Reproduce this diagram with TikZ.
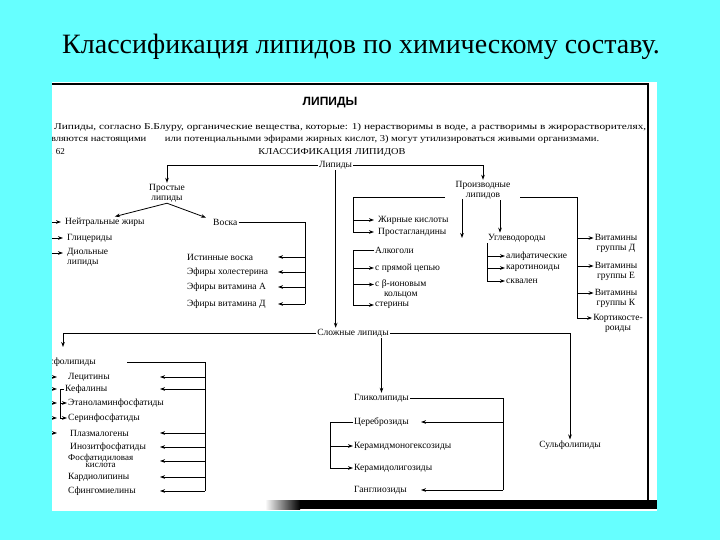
\documentclass[tikz,border=0pt]{standalone}
\usepackage{fontspec}
\setmainfont{Liberation Serif}
\setsansfont{Liberation Sans}
\usetikzlibrary{arrows.meta,calc}
\definecolor{slidecyan}{RGB}{102,255,255}

\begin{document}
\begin{tikzpicture}
  [x=1pt,y=-1pt,
   every node/.style={inner sep=1pt},
   lbl/.style={anchor=west,font=\fontsize{9.5}{10}\selectfont},
   ctr/.style={align=center,font=\fontsize{9.5}{10}\selectfont},
   ln/.style={line width=0.8pt},
   arr/.style={ln,-{Stealth[length=5pt,width=3.6pt]}}]
  \useasboundingbox (0,0) rectangle (720,540);
  \fill[slidecyan] (0,0) rectangle (720,540);
  \node[anchor=base,font=\fontsize{28}{30}\selectfont] (title) at (361,54)
    {Классификация липидов по химическому составу.};
  % scanned page
  \fill[white] (52,82) rectangle (657,511);
  \begin{scope}
  \clip (52,82) rectangle (657,511);
  \draw[line width=1.5pt] (52,84) -- (648,84) -- (648,506);
  \shade[left color=white,right color=black] (265,500) rectangle (300,509);
  \fill[black] (300,500) rectangle (657,509);
  % heading
  \node[font=\sffamily\bfseries\fontsize{12}{12}\selectfont] (head) at (330,103) {ЛИПИДЫ};
  \node[anchor=west,font=\fontsize{9}{10}\selectfont] (intro1) at (53,127)
    {\resizebox{592pt}{\height}{Липиды, согласно Б.Блуру, органические вещества, которые: 1) нерастворимы в воде, а растворимы в жирорастворителях,}};
  \node[anchor=west,font=\fontsize{9}{10}\selectfont] (intro2) at (45,139)
    {\resizebox{553pt}{\height}{являются настоящими\hspace{1.5em} или потенциальными эфирами жирных кислот, 3) могут утилизироваться живыми организмами.}};
  \node[anchor=east,font=\fontsize{9}{10}\selectfont] (fig) at (66,152) {Рис. 62};
  \node[font=\fontsize{9}{10}\selectfont] (klass) at (332,152)
    {\resizebox{147pt}{\height}{КЛАССИФИКАЦИЯ ЛИПИДОВ}};
  % main groups
  \node[lbl] (lip) at (318,165) {Липиды};
  \node[ctr] (prost) at (167,193) {Простые\\липиды};
  \node[ctr] (proizv) at (483,190) {Производные\\липидов};
  \node[ctr] (slozh) at (353,333) {Сложные липиды};
  % simple lipids
  \node[lbl] (nzh) at (64,222) {Нейтральные жиры};
  \node[lbl] (glic) at (66,238) {Глицериды};
  \node[lbl,align=left] (diol) at (66,257) {Диольные\\липиды};
  \node[lbl] (vosk) at (212,222) {Воска};
  \node[lbl] (ist) at (186,257) {Истинные воска};
  \node[lbl] (ech) at (186,272) {Эфиры холестерина};
  \node[lbl] (eva) at (186,287) {Эфиры витамина А};
  \node[lbl] (evd) at (186,304) {Эфиры витамина Д};
  % derived lipids
  \node[lbl] (zhk) at (377,220) {Жирные кислоты};
  \node[lbl] (prg) at (377,232) {Простагландины};
  \node[lbl] (alk) at (374,250) {Алкоголи};
  \node[lbl] (pryam) at (374,268) {с прямой цепью};
  \node[lbl,align=center] (ion) at (374,289) {с β-ионовым\\кольцом};
  \node[lbl] (ster) at (374,305) {стерины};
  \node[lbl] (ugl) at (487,238) {Углеводороды};
  \node[lbl] (alif) at (505,256) {алифатические};
  \node[lbl] (kar) at (505,268) {каротиноиды};
  \node[lbl] (skv) at (505,281) {сквален};
  \node[ctr] (vitD) at (616,243) {Витамины\\группы Д};
  \node[ctr] (vitE) at (616,271) {Витамины\\группы Е};
  \node[ctr] (vitK) at (616,298) {Витамины\\группы К};
  \node[ctr] (kort) at (618,323) {Кортикосте-\\роиды};
  % complex lipids
  \node[lbl,anchor=east] (fosf) at (97,362) {Фосфолипиды};
  \node[lbl] (lec) at (67,377) {Лецитины};
  \node[lbl] (kef) at (64,389) {Кефалины};
  \node[lbl] (eta) at (67,403) {Этаноламинфосфатиды};
  \node[lbl] (ser) at (67,418) {Серинфосфатиды};
  \node[lbl] (plaz) at (69,433) {Плазмалогены};
  \node[lbl] (ino) at (69,447) {Инозитфосфатиды};
  \node[lbl,align=center,font=\fontsize{9}{7.5}\selectfont] (fkis) at (67,461) {Фосфатидиловая\\кислота};
  \node[lbl] (kard) at (67,477) {Кардиолипины};
  \node[lbl] (sfing) at (67,491) {Сфингомиелины};
  \node[lbl] (glik) at (353,398) {Гликолипиды};
  \node[lbl] (cer) at (353,422) {Цереброзиды};
  \node[lbl] (kmg) at (353,446) {Керамидмоногексозиды};
  \node[lbl] (kol) at (353,468) {Керамидолигозиды};
  \node[lbl] (gang) at (353,490) {Ганглиозиды};
  \node[ctr] (sulf) at (570,445) {Сульфолипиды};
  % bus points
  \coordinate (lbus) at (44,0);
  \coordinate (vbus) at (305,222);
  \coordinate (vtip) at (278,0);
  \coordinate (pl) at (445,197);
  \coordinate (pr) at (520,197);
  \coordinate (pd) at (462,199);
  \coordinate (udrop) at (500,0);
  \coordinate (zbus) at (353,197);
  \coordinate (abus) at (353,250);
  \coordinate (rbus) at (577,197);
  \coordinate (fdrop) at (63,347);
  \coordinate (fbus) at (205,362);
  \coordinate (ftip) at (160,0);
  \coordinate (kbus) at (60,0);
  \coordinate (gbus) at (503,398);
  \coordinate (gtip) at (421,0);
  \coordinate (cbus) at (330,422);
  % top level
  \draw[arr] (lip.west) -| (prost.north);
  \draw[arr] (lip.east) -| (proizv.north);
  \draw[arr] (lip.south) -- (lip.south |- slozh.north);
  % simple lipids
  \draw[arr] (prost.south) -- ([xshift=10pt]nzh.north);
  \draw[arr] (prost.south) -- ([xshift=-6pt]vosk.north west);
  \foreach \n in {nzh,glic} \draw[arr] (lbus |- \n.west) -- ([xshift=-3pt]\n.west);
  \draw[arr] ($(lbus |- diol.west)+(0,-4)$) -- ($(diol.west)+(-3,-4)$);
  \draw[ln] (vosk.east) -- (vbus) -- (vbus |- evd);
  \foreach \n in {ist,ech,eva,evd} \draw[arr] (vbus |- \n) -- (vtip |- \n);
  % derived lipids
  \draw[ln] (pl) -- (zbus) -- (zbus |- prg);
  \foreach \n in {zhk,prg} \draw[arr] (zbus |- \n) -- ([xshift=-3pt]\n.west);
  \draw[arr] (pd) -- ++(0,39);
  \draw[arr] (proizv.south -| udrop) -- (udrop |- ugl.north);
  \draw[ln] (alk.west) -- (abus) -- (abus |- ster);
  \foreach \n in {pryam,ster} \draw[arr] (abus |- \n) -- (\n.west);
  \draw[arr] ($(abus |- ion.west)+(0,-4.5)$) -- ($(ion.west)+(0,-4.5)$);
  \draw[ln] (ugl.south west) -- (ugl.south west |- skv);
  \foreach \n in {alif,kar,skv} \draw[arr] (ugl.south west |- \n) -- (\n.west);
  \draw[ln] (pr) -- (rbus) -- ($(rbus |- kort.west)+(0,-5)$);
  \foreach \n in {vitD,vitE,vitK,kort}
    \draw[arr] ($(rbus |- \n.west)+(0,-5)$) -- ($(\n.west)+(0,-5)$);
  % complex lipids
  \draw[arr] (slozh.east) -| (sulf.north);
  \draw[arr] (slozh.south -| glik) -- (glik.north);
  \draw[arr] (slozh.west) -| (fdrop);
  \draw[ln] ([xshift=30pt]fosf.east) -- (fbus) -- (fbus |- sfing);
  \foreach \n in {lec,kef,plaz,ino,fkis,kard,sfing} \draw[arr] (fbus |- \n) -- (ftip |- \n);
  \foreach \n in {lec,kef,eta,ser,plaz} \draw[arr] (lbus |- \n.west) -- ++(13,0);
  \draw[ln] (kef.west) -- (kbus |- kef.west) -- (kbus |- ser.west);
  \foreach \n in {eta,ser} \draw[arr] (kbus |- \n.west) -- (\n.west);
  \draw[ln] (glik.east) -- (gbus) -- (gbus |- gang);
  \foreach \n in {cer,gang} \draw[arr] (gbus |- \n) -- (gtip |- \n);
  \draw[ln] (cer.west) -- (cbus) -- (cbus |- kol);
  \foreach \n in {kmg,kol} \draw[arr] (cbus |- \n) -- (\n.west);
  \end{scope}
\end{tikzpicture}
\end{document}
